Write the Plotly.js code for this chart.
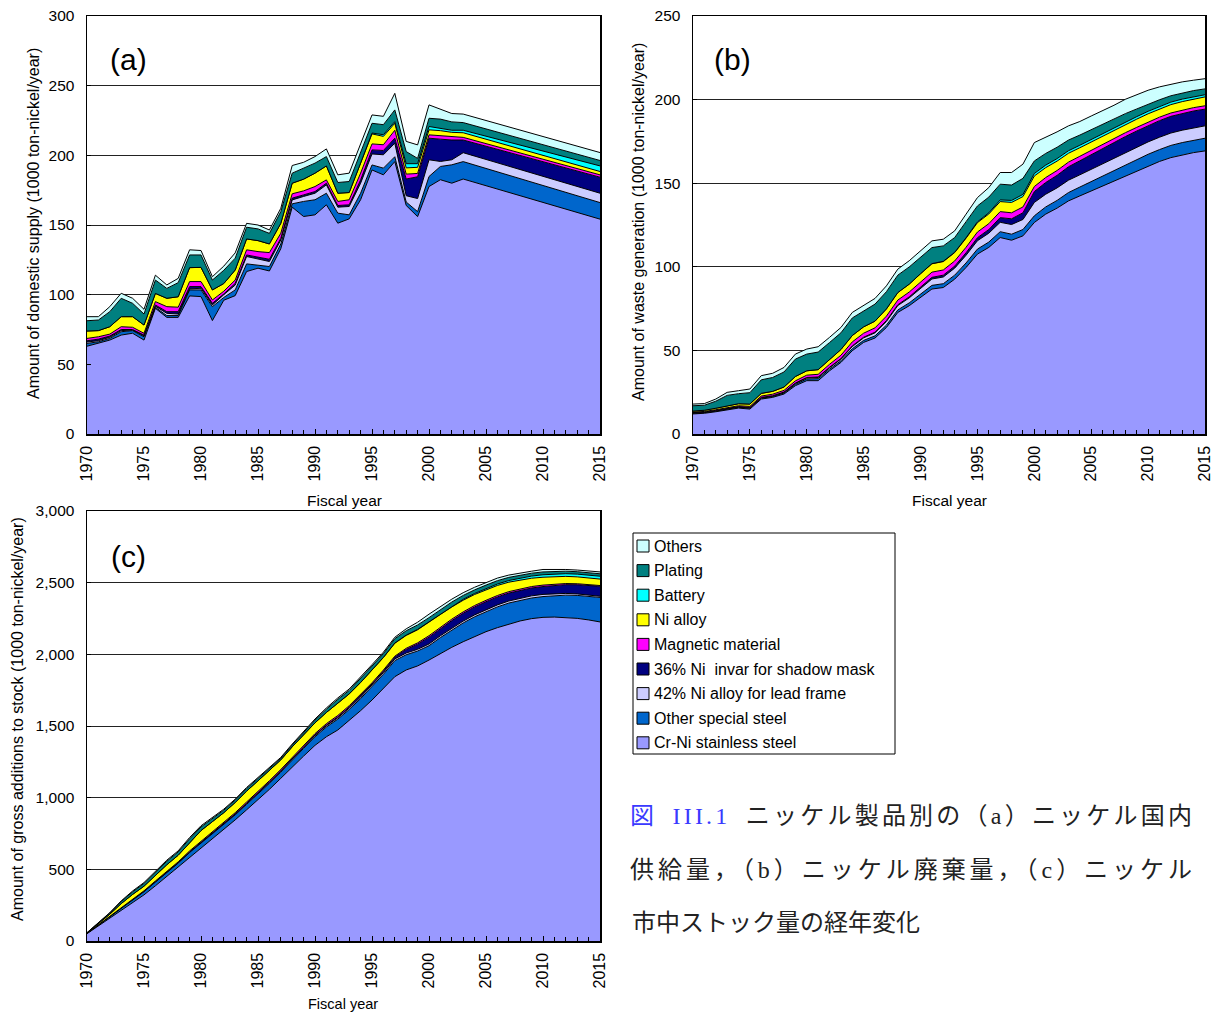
<!DOCTYPE html>
<html>
<head>
<meta charset="utf-8">
<script src="https://cdn.plot.ly/plotly-3.0.1.min.js"></script>
<style>html,body{margin:0;padding:0;background:#fff}#chart{width:1219px;height:1012px}</style>
</head>
<body>
<div id="chart"></div>
<script>
// ---------- series metadata (bottom to top of stack) ----------
const seriesNames = ["Cr-Ni stainless steel","Other special steel","42% Ni alloy for lead frame","36% Ni\u00a0 invar for shadow mask","Magnetic material","Ni alloy","Battery","Plating","Others"];
const seriesColors = ["#9999FF","#0066CC","#CCCCFF","#000080","#FF00FF","#FFFF00","#00FFFF","#008080","#CCFFFF"];

// ---------- (a) domestic supply ----------
const yearsA = [1970,1971,1972,1973,1974,1975,1976,1977,1978,1979,1980,1981,1982,1983,1984,1985,1986,1987,1988,1989,1990,1991,1992,1993,1994,1995,1996,1997,1998,1999,2000,2001,2002,2003,2015];
const aStainless = [63,65,67.4,71,72.3,67.4,90.2,83.7,83.7,99.1, 98.6,81.4,96,99.3,116.6,119,117,133,162.8,156.1, 157.3,164.5,151.3,154.4,168.1,189.5,186,195.5,164,156, 177.6,182.5,180,183, 154.2];
const aSpecial = [2,1.2,1.2,2.4,1.9,2.4,0.7,1.3,1.3,4.3, 4.8,10,2,4.1,5.5,2.4,3.2,3.4,2.4,10.8, 10.8,8.3,7.2,2.9,4.7,3.6,4.8,3.5,2.5,3.6, 7.2,9.5,13.2,12.5, 11.9];
const a42Ni = [1,0.8,0.8,0.8,0.4,0.6,0.8,1.6,1.1,0.7, 1.2,1.2,2,3.5,5.3,4,3.6,2.9,2.8,3.6, 4.7,6,4.3,6,7.2,7.9,9.6,9.7,4.5,9.4, 12,3.6,3.6,6.4, 6.7];
const aInvar = [0.9,1.1,0.9,0.8,0.4,0.6,0.9,1.2,1.7,1.7, 1.2,1.2,0.5,1.2,1.1,1.5,1.6,1.1,1.3,1.1, 1.2,1.2,1.2,1.2,2.4,2.9,3.1,3.6,12,15.6, 15.5,16,14.2,9.1, 11.5];
const aMagnetic = [1.7,1.7,1.4,2,1.6,1.3,2.4,3.6,3.2,3.6, 3.6,2.4,2,2.4,3.7,4,4.8,3.7,3.1,2.9, 3.6,2.4,2.9,3.6,4.8,4.3,4.1,5.7,3.5,2.4, 2.4,2.4,2.4,1.9, 1.7];
const aNiAlloy = [5.3,4.4,5.3,7.2,7.6,5.9,5.9,6,7.5,10, 10.2,7.2,5.5,7.2,7.8,7.9,6.2,7.1,7.6,8.4, 9.6,10,5.9,5.2,7.2,7.2,6,5,4.5,4.4, 3.6,3.7,3.1,3.3, 2.4];
const aBattery = [0,0,0,0,0,0,0,0,0,0, 0,0,0,0,0,0,0,0,0,0, 0,0,0,0,0,0.6,1.2,1.2,3,2.6, 2.4,1.8,1.5,1.8, 4];
const aPlating = [7.4,7.6,10.8,13.2,9.6,7.9,9.6,7.1,10.1,9.1, 8.9,7.1,9.5,8.5,8.4,8.4,7.6,8.4,7.2,7.9, 7.2,6.7,7.7,7.9,8.3,7,7.2,8.4,8.7,3.8, 5.9,6.5,6,5.5, 3.9];
const aOthers = [2.9,2.4,3.6,3.6,3.6,3.4,3.5,2.5,3.1,3.7, 3.2,2.4,3,3.8,2.8,2.8,2.4,2.4,5.5,4.2, 4.7,5.5,5.5,6,5.5,6,6,11.9,7.3,9.7, 9.6,7,6,6.1, 5.7];

// ---------- (b) waste generation ----------
const yearsB = [1970,1971,1972,1973,1974,1975,1976,1977,1978,1979,1980,1981,1982,1983,1984,1985,1986,1987,1988,1989,1990,1991,1992,1993,1994,1995,1996,1997,1998,1999,2000,2001,2002,2003,2004,2005,2006,2007,2008,2009,2010,2011,2012,2013,2014,2015];
const bStainless = [12,12.4,13.3,14.3,15.5,14.9,20.9,21.9,23.9,28.9, 31.9,31.9,37.8,42.8,49.8,54.8,57.4,63.7,72.7,76.7, 81.7,86.7,87.6,92.6,99.6,107.6,111.6,117.5,115.9,118.5, 126.5,131.5,135.1,139.4,142.4,145.4,148.4,151.4,154.4,157.4, 160.4,163,165.3,166.9,168.3,169.3];
const bSpecial = [0.4,0.4,0.4,0.5,0.5,0.5,0.5,0.5,0.6,0.8, 1.0,1.2,1.0,1.0,1.2,1.2,1.3,1.4,1.5,1.7, 2.0,2.2,2.3,2.4,2.7,3.0,3.2,3.5,3.6,3.8, 4.0,4.3,4.6,5.0,5.3,5.6,5.9,6.2,6.5,6.7, 6.9,7.1,7.3,7.4,7.5,7.6];
const b42Ni = [0.2,0.2,0.2,0.2,0.2,0.3,0.3,0.3,0.4,0.5, 0.6,0.7,0.8,1.0,1.3,1.5,1.8,2.2,2.6,3.0, 3.4,3.8,4.0,4.2,4.6,5.0,5.3,5.6,5.8,6.0, 8.0,7.6,7.5,7.4,7.3,7.3,7.3,7.3,7.4,7.4, 7.4,7.4,7.4,7.4,7.4,7.4];
const bInvar = [0.2,0.2,0.2,0.2,0.2,0.2,0.2,0.2,0.2,0.3, 0.3,0.3,0.3,0.3,0.4,0.4,0.4,0.5,0.5,0.6, 0.8,1.0,1.1,1.2,1.5,1.8,2.2,2.8,3.4,4.0, 6.5,7.0,7.5,8.0,8.4,8.8,9.1,9.4,9.6,9.7, 9.8,9.9,10.0,10.0,10.0,10.0];
const bMagnetic = [0.3,0.3,0.4,0.5,0.5,0.6,0.8,0.9,1.0,1.3, 1.4,1.6,1.8,2.0,2.4,2.4,2.6,2.7,2.8,2.9, 3.0,3.1,3.1,3.1,3.3,3.4,3.5,3.6,3.6,3.5, 3.0,3.0,2.9,2.8,2.7,2.6,2.5,2.4,2.3,2.2, 2.1,2.1,2.0,2.0,2.0,2.0];
const bNiAlloy = [0.6,0.7,0.9,1.2,1.2,1.4,1.6,1.7,2.0,2.6, 2.6,2.8,3.0,3.4,3.8,3.8,4.0,4.3,4.5,4.7, 4.9,5.0,5.0,5.0,5.4,5.6,5.8,6.0,6.2,6.2, 6.3,5.9,5.6,5.3,5.1,5.0,4.9,4.9,4.9,4.9, 4.9,4.9,5.0,5.1,5.2,5.3];
const bBattery = [0,0,0,0,0,0,0,0,0,0, 0,0,0,0,0,0,0,0,0,0, 0.1,0.1,0.2,0.2,0.3,0.5,0.7,1.0,1.2,1.3, 1.5,1.5,1.5,1.5,1.5,1.5,1.5,1.5,1.5,1.5, 1.5,1.5,1.5,1.5,1.4,1.3];
const bPlating = [3.2,3.0,4.2,6.2,6.0,6.8,8.1,8.3,9.0,10.4, 10.0,10.5,10.0,10.0,10.5,9.5,10.2,10.3,10.4,10.3, 9.9,9.6,9.2,8.8,9.6,9.5,9.4,9.4,9.2,9.6, 7.5,7.0,6.8,6.4,6.1,5.9,5.6,5.3,5.0,4.6, 4.3,4.0,3.8,3.7,3.6,3.5];
const bOthers = [1.0,1.0,1.3,1.8,1.8,2.2,2.5,2.5,2.7,3.0, 3.0,3.2,3.1,3.2,3.3,3.1,3.4,3.5,3.6,3.7, 3.8,4.0,4.0,4.0,4.5,5.0,5.7,7.0,7.5,8.5, 11.0,9.5,9.2,8.5,8.1,8.1,8.0,8.2,8.6,8.4, 8.3,7.7,6.9,6.6,6.2,6.1];

// ---------- (c) gross additions to stock ----------
const yearsC = yearsB.slice();
const cStainless = [51,105,160,215,268,322,385,450,515,585, 650,715,778,845,915,985,1058,1135,1215,1290, 1365,1425,1472,1537,1607,1681,1763,1844,1891,1919, 1960,2007,2049,2088,2123,2158,2186,2212,2233,2249, 2258,2260,2258,2251,2240,2226];
const cSpecial = [2,6,10,17,21,22,26,28,28,32, 32,32,33,35,38,40,42,43,48,54, 60,68,76,78,84,92,98,112,106,104, 100,110,121,131,139,140,145,146,144,144, 145,150,155,160,166,171];
const c42Ni = [0.2,0.5,0.8,1.3,1.6,1.7,2,2.3,2.5,3, 3.5,3.8,4.2,4.8,5.5,6,6.5,7,7.5,8, 8.5,9,9.5,10,10.5,11,11.5,12,12,12, 12,12.5,12.5,12.8,13,13,13.5,14,14.5,15, 15,14,12,10.5,9,8];
const cInvar = [0.1,0.3,0.5,0.8,1,1.1,1.3,1.5,1.6,2, 2,2,2,2.2,2.4,2.5,2.6,2.8,3,3.5, 4,5,6,7,8,9,10,12,25,36, 48,51,53,54.5,55.5,56,56,55.5,55,55, 55,58,61,64,67,70];
const cMagnetic = [0.3,1,1.6,2.7,3.4,3.6,4.5,5,5.2,6.5, 8,8,8,8.3,8.8,9,9,8.8,9,9.5, 9.5,9.5,9.8,9.5,9.5,8.5,8,7,8,9, 10,10,10,10,10,10,10,10,10,10, 10,9,8,7,6,5];
const cNiAlloy = [2.5,8.5,14,24,30,32,40,45,46,56, 75,72,70,71,76,75,72,67,72,76, 75,78,86,82,84,88,87,90,90,91, 92,88,85,81,77,74,70,66,62,58, 55,52,50,48,46.5,45];
const cBattery = [0,0,0,0,0,0,0,0,0,0, 0,0,0,0,0,0,0,0,0,0, 0,0.2,0.3,0.4,0.6,0.8,1.2,2,2.5,3, 4,5,5.5,6.5,7,8,10,11.5,13.5,15, 17,18,18.5,19,19.5,20];
const cPlating = [1.4,5,8.3,14.4,18,19.2,23,24.5,23.2,28.5, 25,21.5,17.8,17,18,16.5,14.4,11.4,13,15, 19,22.3,26.4,24.1,26.4,27.7,26.3,30,30,31, 30,29.5,29,27.2,25.5,24,23.5,22,21,20, 20,18.5,17.5,17,16.5,17];
const cOthers = [0.5,1.7,2.8,4.8,6,6.4,7.2,7.7,7.5,9, 8.5,7.7,7,6.7,7.3,7,6.5,6,6.5,7, 8,9,10,10,10,10,10,10,13.5,19, 24,22,20,19,18,17,18,16,16,14, 17,13.5,12,11.5,11.5,13];

// ---------- tick / label text ----------
const xTitle = "Fiscal year";
const yTitleA = "Amount of domestic supply (1000 ton-nickel/year)";
const yTitleB = "Amount of waste generation (1000 ton-nickel/year)";
const yTitleC = "Amount of gross additions to stock (1000 ton-nickel/year)";
const panelLabels = ["(a)","(b)","(c)"];
const captionLines = [
  '<span style="color:#3a3aff">図\u2002III.1</span>\u2002ニッケル製品別の（a）ニッケル国内',
  '供給量，（b）ニッケル廃棄量，（c）ニッケル',
  '市中ストック量の経年変化'
];
const captionWidths = [562, 562, 0];

// ---------- build ----------
const W = 1219, H = 1012;
const PX = p => p / W;
const PY = p => 1 - p / H;
const FONT = "Liberation Sans, Arial, sans-serif";
const CAP_LEFT = 630;

function stackTraces(years, arrs, xa, ya, grp) {
  return arrs.map((vals, i) => ({
    type: "scatter", x: years, y: vals, xaxis: xa, yaxis: ya,
    stackgroup: grp, mode: "lines",
    line: {color: "#000", width: 1, shape: "linear"},
    fillcolor: seriesColors[i], showlegend: false, hoverinfo: "skip",
    name: seriesNames[i]
  }));
}

const traces = [].concat(
  stackTraces(yearsA, [aStainless,aSpecial,a42Ni,aInvar,aMagnetic,aNiAlloy,aBattery,aPlating,aOthers], "x", "y", "a"),
  stackTraces(yearsB, [bStainless,bSpecial,b42Ni,bInvar,bMagnetic,bNiAlloy,bBattery,bPlating,bOthers], "x2", "y2", "b"),
  stackTraces(yearsC, [cStainless,cSpecial,c42Ni,cInvar,cMagnetic,cNiAlloy,cBattery,cPlating,cOthers], "x3", "y3", "c")
);

function xAxis(x0, x1, y) {
  return {
    domain: [PX(x0), PX(x1)], anchor: y, range: [1970, 2015],
    tick0: 1970, dtick: 5, ticks: "inside", ticklen: 5, tickwidth: 1, tickcolor: "#000",
    minor: {dtick: 1, ticks: "inside", ticklen: 4, tickwidth: 1, tickcolor: "#000", showgrid: false},
    tickangle: -90, tickfont: {family: FONT, size: 16, color: "#000"}, ticklabelstandoff: 4,
    showline: true, linecolor: "#000", linewidth: 1.5, mirror: true,
    showgrid: false, zeroline: false, fixedrange: true
  };
}
function yAxis(y0, y1, x, max, dt, fmt) {
  return {
    domain: [PY(y1), PY(y0)], anchor: x, range: [0, max], dtick: dt, tick0: 0,
    ticks: "inside", ticklen: 4, tickcolor: "#000",
    tickfont: {family: FONT, size: 15.5, color: "#000"}, ticklabelstandoff: 8,
    tickformat: fmt || "", showline: true, linecolor: "#000", linewidth: 1.5, mirror: true,
    showgrid: true, gridcolor: "#222", gridwidth: 1, zeroline: false, fixedrange: true
  };
}

const annotations = [];
function txt(text, x, y, size, opts) {
  annotations.push(Object.assign({
    text: text, x: PX(x), y: PY(y), xref: "paper", yref: "paper",
    showarrow: false, font: {family: FONT, size: size, color: "#000"},
    xanchor: "center", yanchor: "middle"
  }, opts || {}));
  return annotations.length - 1;
}
// axis titles
txt(xTitle, 344, 500, 15.5);
txt(xTitle, 949, 500, 15.5);
txt(xTitle, 343, 1004, 14.5);
txt(yTitleA, 33, 224, 16, {textangle: -90});
txt(yTitleB, 638, 222, 16, {textangle: -90});
txt(yTitleC, 17, 719, 16, {textangle: -90});
// panel labels
txt(panelLabels[0], 128, 60, 30);
txt(panelLabels[1], 732, 60, 30);
txt(panelLabels[2], 128, 556, 30);

// legend (top item first)
const shapes = [{type: "rect", xref: "paper", yref: "paper",
  x0: PX(633), x1: PX(895), y0: PY(754), y1: PY(533),
  line: {color: "#000", width: 1}, fillcolor: "rgba(0,0,0,0)"}];
for (let k = 0; k < 9; k++) {
  const idx = 8 - k;
  const cy = 546 + k * 24.6;
  shapes.push({type: "rect", xref: "paper", yref: "paper",
    x0: PX(637), x1: PX(649), y0: PY(cy + 6), y1: PY(cy - 6),
    line: {color: "#000", width: 1}, fillcolor: seriesColors[idx]});
  txt(seriesNames[idx], 652, cy, 16, {xanchor: "left"});
}

// caption
const capFont = "Liberation Serif, Noto Sans CJK JP, serif";
const capIdx = [816, 870, 923].map((y, i) =>
  txt(captionLines[i], CAP_LEFT, y, 24, {xanchor: "left", font: {family: capFont, size: 24, color: "#222"}})
);

const layout = {
  width: W, height: H, margin: {l: 0, r: 0, t: 0, b: 0},
  paper_bgcolor: "#fff", plot_bgcolor: "#fff",
  showlegend: false, font: {family: FONT, color: "#000"},
  xaxis: xAxis(87, 600, "y"),
  yaxis: yAxis(16, 434, "x", 300, 50),
  xaxis2: xAxis(693, 1205, "y2"),
  yaxis2: yAxis(16, 434, "x2", 250, 50),
  xaxis3: xAxis(87, 600, "y3"),
  yaxis3: yAxis(511, 941, "x3", 3000, 500, ","),
  annotations: annotations, shapes: shapes
};

Plotly.newPlot("chart", traces, layout, {staticPlot: true, displayModeBar: false}).then(gd => {
  // justify the first two caption lines to the reference width, keeping the left edge
  capIdx.forEach((ai, i) => {
    const w = captionWidths[i];
    if (!w) return;
    const t = gd.querySelector('g.annotation[data-index="' + ai + '"] text.annotation-text');
    if (!t) return;
    const svg = t.ownerSVGElement;
    const before = t.getBoundingClientRect();
    t.setAttribute("textLength", w);
    t.setAttribute("lengthAdjust", "spacing");
    const after = t.getBoundingClientRect();
    const svgLeft = svg.getBoundingClientRect().left;
    const dx = (CAP_LEFT + svgLeft) - after.left;
    const x0 = parseFloat(t.getAttribute("x") || "0");
    t.setAttribute("x", x0 + dx);
  });
});
</script>
</body>
</html>
